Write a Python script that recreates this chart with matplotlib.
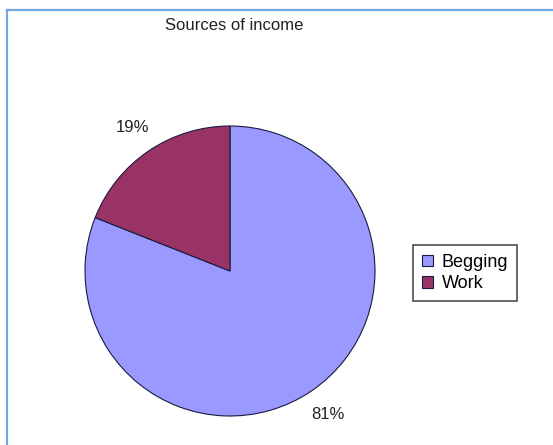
import matplotlib.pyplot as plt
from matplotlib.lines import Line2D

plt.rcParams['font.family'] = ['Liberation Sans', 'DejaVu Sans']

sources = ['Begging', 'Work']
shares = [81, 19]
colours = ['#9999FF', '#993366']

W, H = 553, 445
fig = plt.figure(figsize=(W / 100, H / 100), dpi=100)

# pie axes: centre around (230, 271) px, radius 145 px
ax = fig.add_axes([85 / W, 1 - 416 / H, 290 / W, 290 / H])
wedges, texts, autotexts = ax.pie(
    shares, colors=colours, startangle=90, counterclock=False,
    autopct='%.0f%%', pctdistance=1.2,
    wedgeprops=dict(edgecolor='#1a1a40', linewidth=0.8),
    textprops=dict(fontsize=12, color='#222222'))
ax.set_xlim(-1, 1)
ax.set_ylim(-1, 1)
ax.set_aspect('equal')

fig.text(234 / W, 1 - 26 / H, 'Sources of income', ha='center', va='center',
         fontsize=12, color='#222222')

leg = fig.legend(wedges, sources, loc='center left',
                 bbox_to_anchor=(413 / W, 1 - 273 / H),
                 frameon=True, fancybox=False, fontsize=13,
                 handlelength=0.6, handleheight=0.6, handletextpad=0.5,
                 borderpad=0.5, labelspacing=0.25, borderaxespad=0)
leg.get_frame().set_edgecolor('#222222')
leg.get_frame().set_linewidth(1.2)

# light blue frame along the top and left edges
fig.add_artist(Line2D([6.5 / W, 6.5 / W], [0, 1 - 9.5 / H], color='#6FA8DC', lw=1.6,
                      transform=fig.transFigure))
fig.add_artist(Line2D([6.5 / W, 1], [1 - 9.5 / H, 1 - 9.5 / H], color='#6FA8DC', lw=1.6,
                      transform=fig.transFigure))

fig.savefig('out.png', dpi=100)
